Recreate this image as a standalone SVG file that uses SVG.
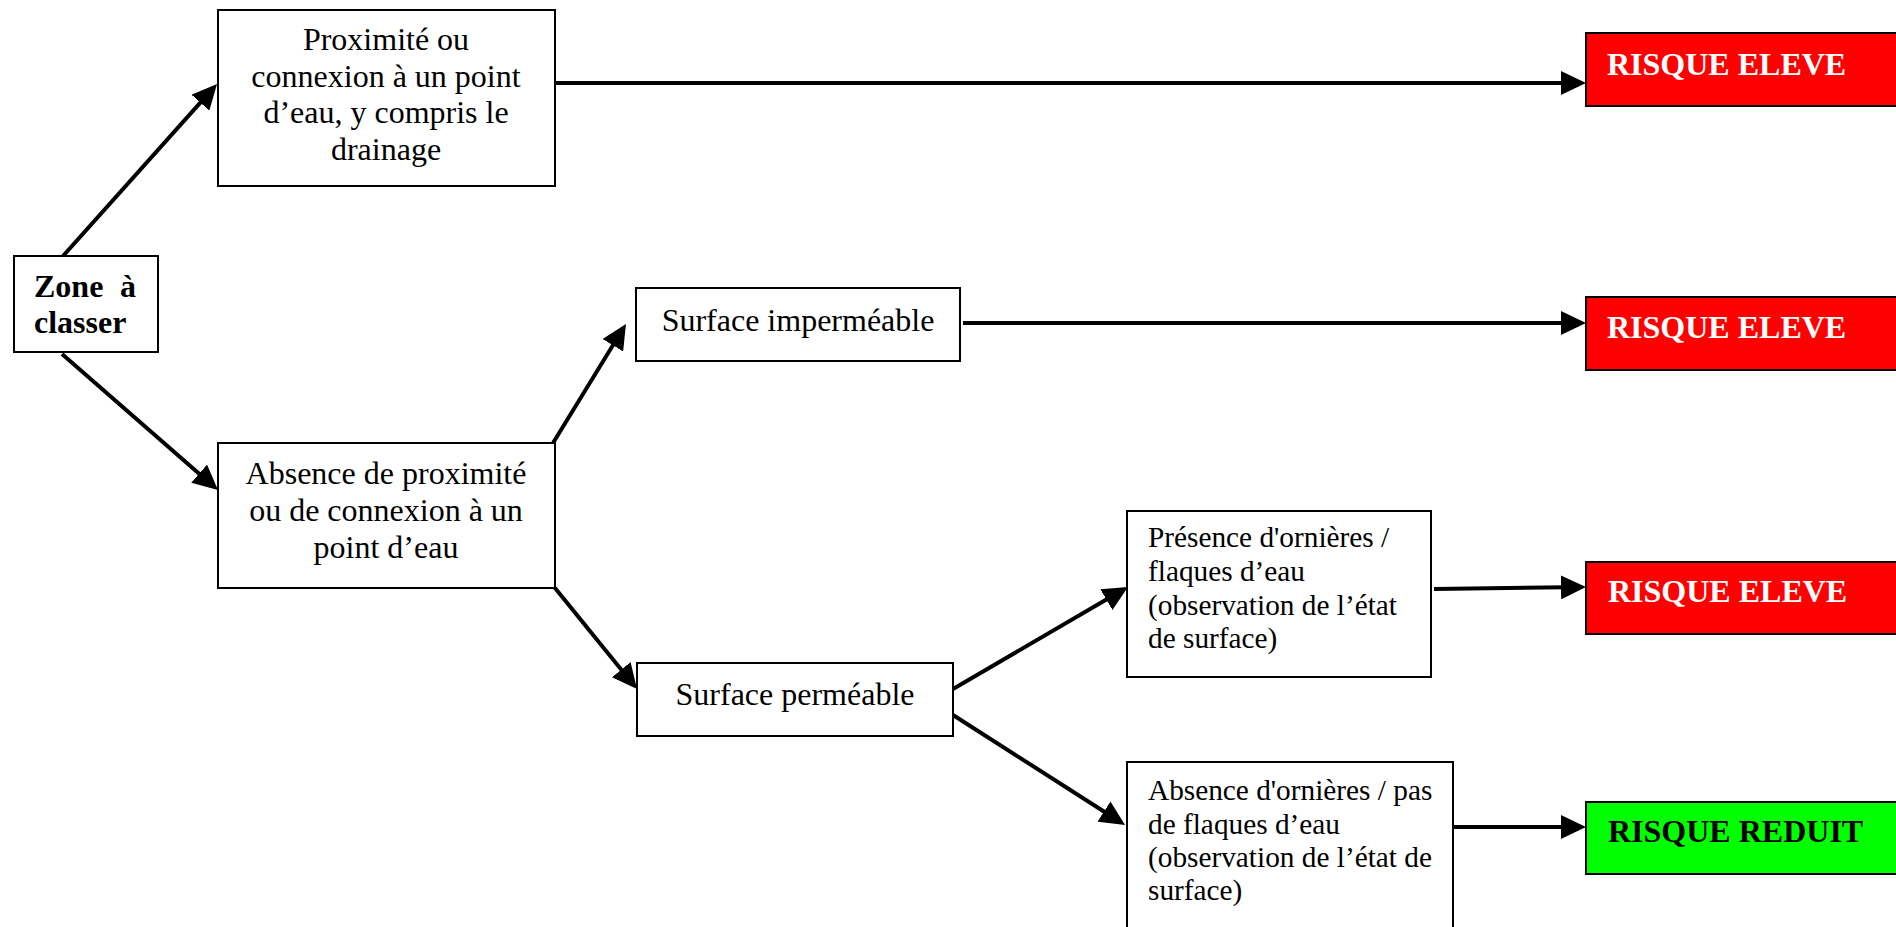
<svg xmlns="http://www.w3.org/2000/svg" width="1896" height="927" viewBox="0 0 1896 927">
<style>
.box{fill:#fff;stroke:#000;stroke-width:2}
.red{fill:#ff0000;stroke:#000;stroke-width:2}
.green{fill:#00ff00;stroke:#000;stroke-width:2}
text{font-family:"Liberation Serif","Times New Roman",serif;font-size:32px;fill:#000}
.c{text-anchor:middle}
.b{font-weight:bold}
.w{fill:#fff}
.s{font-size:29.3px}
.con line{stroke:#000;stroke-width:4;marker-end:url(#ah)}
</style>
<defs>
<marker id="ah" markerUnits="userSpaceOnUse" markerWidth="26" markerHeight="24" refX="5" refY="12" orient="auto" viewBox="0 0 26 24">
<path d="M0,0 L25,12 L0,24 z" fill="#000"/>
</marker>
</defs>
<rect width="1896" height="927" fill="#fff"/>
<g id="connectors" class="con">
<line x1="63" y1="256" x2="203.7" y2="98.9"/>
<line x1="62" y1="354" x2="202.9" y2="476.9"/>
<line x1="555" y1="83" x2="1566" y2="83"/>
<line x1="553" y1="443" x2="615.5" y2="341"/>
<line x1="963" y1="323" x2="1566" y2="323"/>
<line x1="555" y1="588" x2="624.4" y2="673.5"/>
<line x1="953" y1="689" x2="1110.7" y2="597.1"/>
<line x1="953" y1="715" x2="1108.2" y2="814.2"/>
<line x1="1434" y1="589" x2="1566" y2="587.3"/>
<line x1="1453" y1="827" x2="1566" y2="827"/>
</g>
<g id="zone">
<rect class="box" x="14" y="256" width="144" height="96"/>
<text class="b" x="34" y="297">Zone</text>
<text class="b" x="136" y="297" text-anchor="end">à</text>
<text class="b" x="34" y="333">classer</text>
</g>
<g id="proximite">
<rect class="box" x="218" y="10" width="337" height="176"/>
<text class="c" x="386" y="50">Proximité ou</text>
<text class="c" x="386" y="87">connexion à un point</text>
<text class="c" x="386" y="123">d’eau, y compris le</text>
<text class="c" x="386" y="160">drainage</text>
</g>
<g id="absence-proximite">
<rect class="box" x="218" y="443" width="337" height="145"/>
<text class="c" x="386" y="484">Absence de proximité</text>
<text class="c" x="386" y="521">ou de connexion à un</text>
<text class="c" x="386" y="558">point d’eau</text>
</g>
<g id="surface-impermeable">
<rect class="box" x="636" y="288" width="324" height="73"/>
<text class="c" x="798" y="331">Surface imperméable</text>
</g>
<g id="surface-permeable">
<rect class="box" x="637" y="663" width="316" height="73"/>
<text class="c" x="795" y="705">Surface perméable</text>
</g>
<g id="presence-ornieres">
<rect class="box" x="1127" y="511" width="304" height="166"/>
<text class="s" x="1148" y="547">Présence d'ornières /</text>
<text class="s" x="1148" y="581">flaques d’eau</text>
<text class="s" x="1148" y="615">(observation de l’état</text>
<text class="s" x="1148" y="648">de surface)</text>
</g>
<g id="absence-ornieres">
<rect class="box" x="1127" y="762" width="326" height="170"/>
<text class="s" x="1148" y="800">Absence d'ornières / pas</text>
<text class="s" x="1148" y="834">de flaques d’eau</text>
<text class="s" x="1148" y="867">(observation de l’état de</text>
<text class="s" x="1148" y="900">surface)</text>
</g>
<g id="risque-eleve-1">
<rect class="red" x="1586" y="33" width="320" height="73"/>
<text class="b w" x="1607" y="75">RISQUE ELEVE</text>
</g>
<g id="risque-eleve-2">
<rect class="red" x="1586" y="297" width="320" height="73"/>
<text class="b w" x="1607" y="338">RISQUE ELEVE</text>
</g>
<g id="risque-eleve-3">
<rect class="red" x="1586" y="562" width="320" height="72"/>
<text class="b w" x="1608" y="602">RISQUE ELEVE</text>
</g>
<g id="risque-reduit">
<rect class="green" x="1586" y="802" width="320" height="72"/>
<text class="b" x="1608" y="842">RISQUE REDUIT</text>
</g>
</svg>
